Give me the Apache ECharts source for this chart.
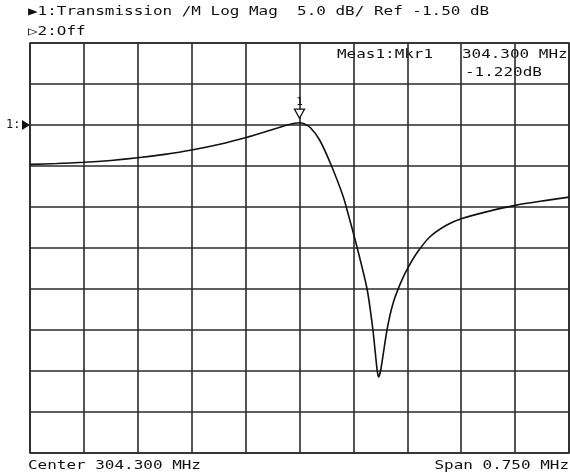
<!DOCTYPE html>
<html>
<head>
<meta charset="utf-8">
<script src="https://cdn.jsdelivr.net/npm/echarts@6/dist/echarts.min.js"></script>
<style>
html,body{margin:0;padding:0;background:#fff;}
#c{width:570px;height:474px;}
</style>
</head>
<body>
<div id="c"></div>
<script>
// ---- data ----
const freqMHz = [303.925, 303.962, 304.000, 304.0375, 304.075, 304.1125, 304.150, 304.189, 304.227, 304.248, 304.266, 304.283, 304.293, 304.300,
  304.307, 304.315, 304.328, 304.344, 304.361, 304.370, 304.380, 304.394, 304.402, 304.408, 304.410,
  304.413, 304.422, 304.430, 304.440, 304.451, 304.465, 304.482, 304.505, 304.526, 304.564, 304.600, 304.639, 304.675];
const magDb = [-6.30, -6.20, -6.05, -5.82, -5.50, -5.08, -4.55, -3.85, -3.00, -2.45, -1.95, -1.50, -1.28, -1.22,
  -1.38, -1.80, -3.33, -6.38, -10.28, -13.09, -16.38, -21.50, -26.38, -31.38, -32.23,
  -31.38, -26.38, -23.30, -20.90, -18.90, -16.90, -15.10, -13.70, -12.90, -12.00, -11.30, -10.75, -10.30];
const markerFreq = 304.300;
const markerDb = -1.22;
const centerMHz = 304.300;
const spanMHz = 0.750;
const scaleDbPerDiv = 5.0;
const refDb = -1.50;
const refDiv = 8;      // reference line position (divisions from bottom)
const divisions = 10;

const titleText1 = '\u25B61:Transmission /M Log Mag  5.0 dB/ Ref -1.50 dB';
const titleText2 = '\u25B72:Off';
const measText1 = 'Meas1:Mkr1   304.300 MHz';
const measText2 = '-1.220dB';
const centerText = 'Center 304.300 MHz';
const spanText = 'Span 0.750 MHz';

const yMax = refDb + (divisions - refDiv) * scaleDbPerDiv;
const yMin = refDb - refDiv * scaleDbPerDiv;

const chart = echarts.init(document.getElementById('c'), null, {renderer: 'canvas'});
const FONT = '"DejaVu Sans Mono", monospace';
const SX = 1.33;
function txt(x, y, s, align) {
  return {type: 'text', x: x, y: y, scaleX: SX, scaleY: 1,
    style: {text: s, font: '12px ' + FONT, fill: '#111', textAlign: align || 'left', textVerticalAlign: 'middle'}};
}
const data = freqMHz.map((f, i) => [f, magDb[i]]);
chart.setOption({
  animation: false,
  backgroundColor: '#fff',
  grid: {left: 30, right: 1, top: 43, bottom: 21, show: true, borderColor: '#2a2a2a', borderWidth: 1.6},
  xAxis: [
    {type: 'value', min: centerMHz - spanMHz / 2, max: centerMHz + spanMHz / 2, show: false},
    {type: 'value', min: 0, max: divisions, interval: 1, axisLine: {show: false}, axisTick: {show: false},
     axisLabel: {show: false}, splitLine: {show: true, lineStyle: {color: '#2a2a2a', width: 1.6}}}
  ],
  yAxis: [
    {type: 'value', min: yMin, max: yMax, show: false},
    {type: 'value', min: 0, max: divisions, interval: 1, axisLine: {show: false}, axisTick: {show: false},
     axisLabel: {show: false}, splitLine: {show: true, lineStyle: {color: '#2a2a2a', width: 1.6}}}
  ],
  series: [
    {type: 'line', xAxisIndex: 0, yAxisIndex: 0, data: data, smooth: 0.25, symbol: 'none',
     lineStyle: {color: '#111', width: 1.6}, z: 5,
     markPoint: {
       symbol: 'triangle', symbolRotate: 180, symbolSize: [10, 9], symbolOffset: [0, -9],
       itemStyle: {color: '#fff', borderColor: '#111', borderWidth: 1.3},
       label: {show: true, position: 'top', distance: 1, formatter: '1', color: '#111', fontFamily: FONT, fontSize: 11},
       data: [{coord: [markerFreq, markerDb]}]
     }}
  ],
  graphic: [
    txt(28, 12, titleText1),
    txt(28, 32, titleText2),
    txt(337, 55, measText1),
    txt(465, 73, measText2),
    txt(28, 466, centerText),
    txt(569, 466, spanText, 'right'),
    {type: 'text', x: 6, y: 125, style: {text: '1:', font: '12px ' + FONT, fill: '#111', textVerticalAlign: 'middle'}},
    {type: 'polygon', shape: {points: [[22, 120], [30, 125], [22, 130]]}, style: {fill: '#111'}}
  ]
});
</script>
</body>
</html>
